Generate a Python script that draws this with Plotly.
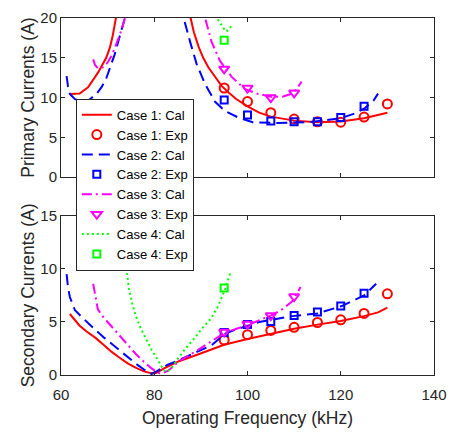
import plotly.graph_objects as go
from plotly.subplots import make_subplots

# ---------------- data ----------------
# Primary currents (top), calculated curves
c1p_cal_f = [62.0, 64.0, 65.8, 67.9, 69.7, 70.5, 71.1, 71.8, 72.4, 80.0, 86.6, 87.7, 88.5, 89.5, 90.5, 91.6, 93.0, 94.4, 96.0, 97.5, 100.0, 102.5, 105.0, 110.0, 115.0, 120.0, 125.0, 130.0]
c1p_cal_i = [10.45, 10.5, 11.3, 13.1, 15.0, 16.3, 17.8, 20.0, 22.0, 40.0, 23.0, 20.0, 18.2, 16.4, 15.0, 13.8, 12.6, 11.5, 10.6, 9.85, 8.9, 8.1, 7.6, 7.1, 6.9, 7.0, 7.4, 8.1]
c2p_cal_f = [61.2, 61.5, 61.9, 63.0, 64.7, 66.0, 67.6, 68.7, 69.7, 70.6, 71.5, 72.4, 73.2, 73.7, 74.2, 80.0, 85.3, 86.3, 87.7, 89.1, 90.9, 93.0, 95.2, 98.0, 101.1, 106.0, 113.0, 120.0, 123.0, 125.0, 127.0, 128.0]
c2p_cal_i = [12.7, 11.4, 10.45, 9.8, 9.5, 9.7, 10.45, 11.3, 12.4, 13.8, 15.4, 17.3, 18.9, 20.0, 21.6, 40.0, 23.0, 20.0, 17.0, 14.2, 11.7, 9.5, 8.3, 7.5, 6.9, 6.8, 6.9, 7.4, 8.0, 8.6, 9.6, 10.5]
c3p_cal_f = [66.9, 67.3, 67.9, 68.6, 69.3, 70.0, 70.9, 71.8, 72.5, 73.2, 73.8, 74.3, 82.0, 90.0, 90.9, 92.3, 94.1, 96.6, 99.4, 102.0, 105.0, 107.5, 109.6, 110.7, 111.6]
c3p_cal_i = [14.8, 14.1, 13.7, 13.7, 13.9, 14.4, 15.3, 16.6, 17.7, 18.9, 20.0, 21.3, 40.0, 22.5, 20.0, 17.0, 14.6, 12.6, 11.1, 10.5, 10.1, 10.1, 10.5, 11.2, 12.0]
c4p_cal_f = [93.0, 93.4, 93.9, 94.5, 95.1, 95.5, 95.9, 96.3, 96.6]
c4p_cal_i = [21.0, 20.0, 19.6, 19.0, 18.5, 18.3, 18.5, 18.8, 19.1]

# Secondary currents (bottom), calculated curves
c1s_cal_f = [61.9, 64.0, 65.5, 67.4, 69.0, 70.8, 72.5, 74.3, 76.0, 77.8, 79.6, 80.5, 82.0, 85.3, 89.5, 95.0, 100.0, 105.0, 110.0, 115.0, 120.0, 125.0, 128.0, 130.0]
c1s_cal_i = [5.75, 4.65, 4.1, 3.5, 2.9, 2.2, 1.65, 1.1, 0.7, 0.34, 0.15, 0.2, 0.6, 1.3, 1.95, 2.85, 3.4, 3.9, 4.35, 4.75, 5.1, 5.55, 5.9, 6.35]
c2s_cal_f = [61.2, 61.5, 61.9, 63.0, 65.8, 69.3, 72.9, 76.4, 78.5, 79.4, 80.5, 82.8, 85.3, 89.5, 92.3, 95.2, 97.6, 102.5, 109.6, 115.0, 120.2, 125.0, 127.6]
c2s_cal_i = [9.5, 8.3, 7.35, 6.1, 4.9, 3.5, 2.2, 0.95, 0.3, 0.1, 0.35, 0.95, 1.4, 2.2, 2.8, 3.9, 4.3, 5.0, 5.55, 5.8, 6.5, 7.5, 8.6]
c3s_cal_f = [66.9, 67.3, 67.9, 69.0, 70.8, 72.5, 74.3, 76.0, 77.8, 79.5, 80.8, 81.7, 83.0, 85.3, 89.5, 95.2, 100.0, 105.0, 107.5, 109.6, 111.4]
c3s_cal_i = [8.6, 7.5, 6.2, 5.5, 4.6, 3.7, 2.8, 2.0, 1.25, 0.6, 0.2, 0.15, 0.4, 1.3, 2.4, 4.0, 4.7, 5.6, 6.2, 6.95, 8.3]
c4s_cal_f = [73.9, 74.2, 74.6, 75.3, 76.1, 77.1, 78.2, 79.4, 80.6, 81.4, 82.2, 82.8, 83.8, 85.0, 86.7, 88.5, 90.2, 92.3, 93.7, 95.2, 96.3]
c4s_cal_i = [10.55, 9.3, 8.0, 6.7, 5.5, 4.4, 3.4, 2.4, 1.55, 0.9, 0.4, 0.3, 0.7, 1.5, 2.5, 3.4, 4.36, 5.4, 6.5, 8.1, 9.6]

# Experimental points
c1_exp_f = [95, 100, 105, 110, 115, 120, 125, 130]
c1p_exp_i = [11.2, 9.5, 8.1, 7.3, 6.95, 6.9, 7.55, 9.2]
c1s_exp_i = [3.3, 3.8, 4.2, 4.5, 4.95, 5.2, 5.8, 7.65]
c2_exp_f = [95, 100, 105, 110, 115, 120, 125]
c2p_exp_i = [9.7, 7.8, 7.05, 6.95, 6.95, 7.5, 8.9]
c2s_exp_i = [4.0, 4.75, 5.05, 5.6, 5.95, 6.5, 7.7]
c3_exp_f = [95, 100, 105, 110]
c3p_exp_i = [13.6, 11.2, 10.0, 10.6]
c3s_exp_i = [4.05, 4.8, 5.6, 7.4]
c4_exp_f = [95]
c4p_exp_i = [17.2]
c4s_exp_i = [8.2]

names = ["Case 1", "Case 2", "Case 3", "Case 4"]
x_ticks = [60, 80, 100, 120, 140]
y1_ticks = [0, 5, 10, 15, 20]
y2_ticks = [0, 5, 10, 15]

# ---------------- styles ----------------
colors = ["#FF0000", "#0000FF", "#FF00FF", "#00FF00"]
dashes = ["solid", "11px,6px", "10px,4px,2px,4px", "2px,3px"]
symbols = ["circle-open", "square-open", "triangle-down-open", "square-open"]
msizes = [9, 7, 9, 7]

cal_p = [(c1p_cal_f, c1p_cal_i), (c2p_cal_f, c2p_cal_i), (c3p_cal_f, c3p_cal_i), (c4p_cal_f, c4p_cal_i)]
cal_s = [(c1s_cal_f, c1s_cal_i), (c2s_cal_f, c2s_cal_i), (c3s_cal_f, c3s_cal_i), (c4s_cal_f, c4s_cal_i)]
exp_p = [(c1_exp_f, c1p_exp_i), (c2_exp_f, c2p_exp_i), (c3_exp_f, c3p_exp_i), (c4_exp_f, c4p_exp_i)]
exp_s = [(c1_exp_f, c1s_exp_i), (c2_exp_f, c2s_exp_i), (c3_exp_f, c3s_exp_i), (c4_exp_f, c4s_exp_i)]

fig = make_subplots(rows=2, cols=1)

for k in range(4):
    for row, cal, ex, show in [(1, cal_p, exp_p, True), (2, cal_s, exp_s, False)]:
        fig.add_trace(go.Scatter(
            x=cal[k][0], y=cal[k][1], mode="lines", name=names[k] + ": Cal",
            line=dict(color=colors[k], width=2, dash=dashes[k]),
            showlegend=show, legendrank=10 * k + 1), row=row, col=1)
        fig.add_trace(go.Scatter(
            x=ex[k][0], y=ex[k][1], mode="markers", name=names[k] + ": Exp",
            marker=dict(symbol=symbols[k], size=msizes[k], color=colors[k],
                        line=dict(width=2, color=colors[k])),
            showlegend=show, legendrank=10 * k + 2, cliponaxis=False), row=row, col=1)

axis_color = "#262626"
font_family = "Arial, 'Liberation Sans', sans-serif"
common_x = dict(range=[60, 140], tickvals=x_ticks, ticks="inside", ticklen=4,
                tickcolor=axis_color, showline=True, linecolor=axis_color, linewidth=1,
                mirror="allticks", showgrid=False, zeroline=False)
common_y = dict(ticks="inside", ticklen=4, tickcolor=axis_color, showline=True,
                linecolor=axis_color, linewidth=1, mirror="allticks",
                showgrid=False, zeroline=False)

fig.update_layout(
    width=456, height=433,
    margin=dict(l=61, r=18, t=9, b=56),
    paper_bgcolor="white", plot_bgcolor="white",
    font=dict(family=font_family, size=15, color=axis_color),
    xaxis=dict(domain=[0, 1], showticklabels=False, anchor="y", **common_x),
    xaxis2=dict(domain=[0, 1], anchor="y2", ticklabelstandoff=6,
                title=dict(text="Operating Frequency (kHz)", font=dict(size=17.5), standoff=9),
                **common_x),
    yaxis=dict(domain=[0.5543, 1], range=[0, 20], tickvals=y1_ticks, anchor="x",
               title=dict(text="Primary Currents (A)", font=dict(size=17.5), standoff=1),
               **common_y),
    yaxis2=dict(domain=[0, 0.4457], range=[0, 15], tickvals=y2_ticks, anchor="x2",
                title=dict(text="Secondary Currents (A)", font=dict(size=17.5), standoff=1),
                **common_y),
    legend=dict(x=0.0397, y=0.774, xanchor="left", yanchor="top",
                bgcolor="white", bordercolor=axis_color, borderwidth=1,
                font=dict(size=13, color="#000000"), itemwidth=30,
                tracegroupgap=0),
    showlegend=True,
)

fig.write_html("out.html")
